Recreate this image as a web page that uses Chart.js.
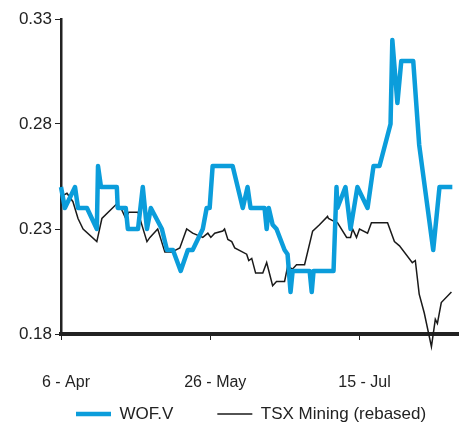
<!DOCTYPE html>
<html>
<head>
<meta charset="utf-8">
<script src="https://cdn.jsdelivr.net/npm/chart.js@4/dist/chart.umd.min.js"></script>
<style>
  html, body { margin: 0; padding: 0; background: #fff; }
</style>
</head>
<body>
<canvas id="chart" width="465" height="427"></canvas>
<script>
// days counted from 6-Apr
const wofDays = [0, 1.3, 4.7, 5.7, 8.7, 12, 12.4, 13.4, 18.7, 19, 21.7, 22.4, 25.8, 27.4, 28.8, 30.1, 33.8, 35.5, 37.5, 40.1, 42.5, 44.1, 47.5, 48.8, 49.8, 50.8, 57.5, 60.9, 62.5, 63.5, 68.2, 68.9, 69.6, 70.9, 72.2, 74.9, 75.9, 76.9, 77.6, 83.3, 84, 84.6, 91.3, 92.3, 92.6, 95.3, 97, 99.3, 102.7, 104.7, 106.7, 110.4, 111, 112.7, 114, 118, 119, 120, 124.7, 126.8, 131.1]
const wofValues = [0.25, 0.24, 0.25, 0.24, 0.24, 0.23, 0.26, 0.25, 0.25, 0.24, 0.24, 0.23, 0.23, 0.25, 0.23, 0.24, 0.23, 0.22, 0.22, 0.21, 0.22, 0.22, 0.23, 0.24, 0.24, 0.26, 0.26, 0.24, 0.25, 0.24, 0.24, 0.23, 0.24, 0.232, 0.23, 0.22, 0.218, 0.20, 0.21, 0.21, 0.20, 0.21, 0.21, 0.25, 0.24, 0.25, 0.23, 0.25, 0.24, 0.26, 0.26, 0.28, 0.32, 0.29, 0.31, 0.31, 0.29, 0.27, 0.22, 0.25, 0.25]

const tsxDays = [0, 0.7, 2, 4, 5.7, 7.4, 12, 13.7, 18.7, 20.4, 21.7, 22.7, 25.8, 28.8, 29.8, 32.4, 34.8, 37.1, 39.8, 42.1, 44.1, 47.5, 49.2, 50.2, 51.5, 54.2, 54.8, 55.9, 57.2, 58.2, 62.2, 62.9, 63.9, 65.2, 67.6, 68.9, 70.9, 72.2, 74.9, 75.9, 77.6, 78.9, 81.6, 84.3, 86.6, 89.3, 89.6, 91, 92.6, 95.7, 97, 97.7, 99, 100, 102.7, 104, 109.4, 111.7, 113.4, 117.7, 118.7, 120, 121.7, 124.1, 125.4, 126.1, 127.4, 130.8]
const tsxValues = [0.25, 0.246, 0.247, 0.243, 0.235, 0.23, 0.224, 0.235, 0.242, 0.239, 0.235, 0.238, 0.238, 0.224, 0.226, 0.23, 0.219, 0.219, 0.221, 0.23, 0.228, 0.226, 0.228, 0.226, 0.228, 0.229, 0.23, 0.225, 0.224, 0.221, 0.218, 0.215, 0.216, 0.209, 0.209, 0.214, 0.203, 0.205, 0.205, 0.212, 0.211, 0.213, 0.213, 0.229, 0.232, 0.236, 0.235, 0.234, 0.233, 0.226, 0.226, 0.23, 0.226, 0.23, 0.228, 0.233, 0.233, 0.224, 0.222, 0.214, 0.215, 0.199, 0.19, 0.174, 0.187, 0.185, 0.195, 0.2]

const xTickDays = [0, 50, 100]
const xTickLabels = ["6 - Apr", "26 - May", "15 - Jul"]
const yTickValues = [0.18, 0.23, 0.28, 0.33]

const toPoints = (xs, ys) => xs.map((x, i) => ({ x: x, y: ys[i] }))

// move the legend to where the original puts it
const legendPlace = {
    id: "legendPlace",
    afterLayout(chart) {
        const lg = chart.legend
        const pad = lg.options.labels.padding
        lg.left = 76 - pad
        lg.right = 2000
        lg.top = 414 - pad - 8.5
        lg.bottom = lg.top + 200
    }
}

new Chart(document.getElementById("chart"), {
    type: "line",
    data: {
        datasets: [{
            label: "WOF.V",
            data: toPoints(wofDays, wofValues),
            borderColor: "#0b9ddb",
            backgroundColor: "#0b9ddb",
            borderWidth: 4.5,
            pointRadius: 0,
            borderJoinStyle: "round",
            clip: false
        }, {
            label: "TSX Mining (rebased)",
            data: toPoints(tsxDays, tsxValues),
            borderColor: "#1a1a1a",
            backgroundColor: "#1a1a1a",
            borderWidth: 1.5,
            pointRadius: 0,
            clip: false
        }]
    },
    options: {
        responsive: false,
        animation: false,
        layout: { padding: { top: 19, left: 0, right: 7, bottom: 0 } },
        scales: {
            x: {
                type: "linear",
                min: 0,
                max: 133,
                afterBuildTicks: (axis) => { axis.ticks = xTickDays.map(v => ({ value: v })) },
                afterFit: (axis) => { axis.height = 67 },
                ticks: {
                    callback: (v, i) => xTickLabels[i],
                    color: "#222",
                    font: { family: "'Liberation Sans', Arial", size: 16 },
                    padding: 33,
                    maxRotation: 0,
                    labelOffset: 5
                },
                grid: { drawOnChartArea: false, tickLength: 6, color: "#222" },
                border: { color: "#222", width: 4 }
            },
            y: {
                min: 0.18,
                max: 0.33,
                afterBuildTicks: (axis) => { axis.ticks = yTickValues.map(v => ({ value: v })) },
                afterFit: (axis) => { axis.width = 61 },
                ticks: {
                    callback: (v) => v.toFixed(2),
                    color: "#222",
                    font: { family: "'Liberation Sans', Arial", size: 17 },
                    padding: 3
                },
                grid: { drawOnChartArea: false, tickLength: 6, color: "#222" },
                border: { color: "#222", width: 2.5 }
            }
        },
        plugins: {
            legend: {
                position: "bottom",
                align: "start",
                maxHeight: 26,
                labels: {
                    usePointStyle: true,
                    pointStyle: "line",
                    pointStyleWidth: 35,
                    padding: 44,
                    color: "#222",
                    font: { family: "'Liberation Sans', Arial", size: 17 }
                }
            },
            tooltip: { enabled: false }
        }
    },
    plugins: [legendPlace]
})
</script>
</body>
</html>
